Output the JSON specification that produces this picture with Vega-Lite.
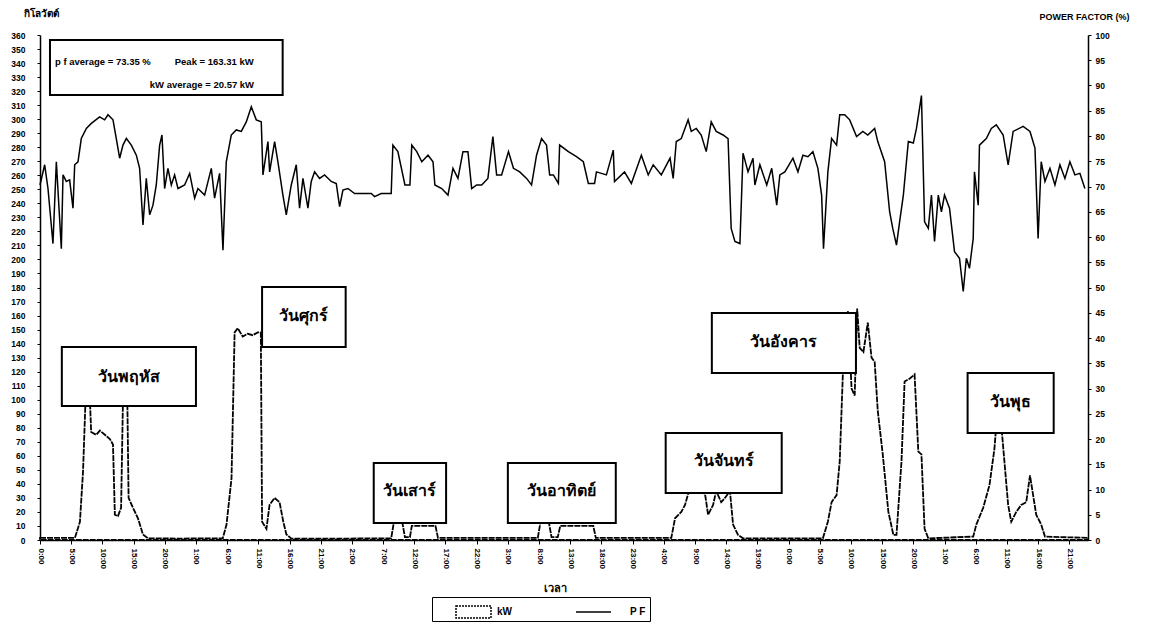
{
 "$schema": "https://vega.github.io/schema/vega-lite/v6.json",
 "width": 1048,
 "height": 505,
 "autosize": {"type": "none"},
 "padding": {"left": 40, "top": 35, "right": 69, "bottom": 87},
 "background": "white",
 "config": {
  "view": {"stroke": null},
  "font": "Liberation Sans",
  "axis": {"labelFont": "Liberation Sans", "titleFont": "Liberation Sans", "labelColor": "black", "titleColor": "black", "domainColor": "black", "tickColor": "black", "grid": false, "domainWidth": 1.5, "labelFontWeight": "bold", "titleFontWeight": "bold"},
  "legend": {"labelFont": "Liberation Sans", "labelFontSize": 10, "labelFontWeight": "bold", "labelColor": "black"}
 },
 "datasets": {
  "kw": [
   {"h":0,"kw":1.5},{"h":3,"kw":1.5},{"h":5.6,"kw":1.5},{"h":6.4,"kw":13},{"h":6.9,"kw":49},{"h":7.3,"kw":100},{"h":8.0,"kw":100},{"h":8.2,"kw":77},{"h":9.0,"kw":75},{"h":9.6,"kw":78},{"h":10.4,"kw":75},{"h":11.2,"kw":72},{"h":11.7,"kw":68},{"h":12.0,"kw":18},{"h":12.5,"kw":17},{"h":13.0,"kw":23},{"h":13.3,"kw":100},{"h":14.0,"kw":100},{"h":14.2,"kw":30},{"h":14.9,"kw":23},{"h":15.7,"kw":15.5},{"h":16.5,"kw":4},{"h":17.3,"kw":1.2},{"h":22,"kw":1},{"h":26,"kw":1.2},{"h":29.3,"kw":1.2},{"h":29.9,"kw":11},{"h":30.7,"kw":44},{"h":31.2,"kw":148},{"h":31.7,"kw":151},{"h":32.5,"kw":145},{"h":33.3,"kw":147},{"h":34.1,"kw":146},{"h":34.9,"kw":148},{"h":35.4,"kw":148},{"h":35.6,"kw":13},{"h":36.3,"kw":8},{"h":36.8,"kw":25},{"h":37.6,"kw":30},{"h":38.4,"kw":27},{"h":39.0,"kw":13},{"h":39.5,"kw":4},{"h":40.3,"kw":1},{"h":48,"kw":1},{"h":56.3,"kw":1.2},{"h":56.7,"kw":12},{"h":58.1,"kw":12},{"h":58.5,"kw":2},{"h":59.3,"kw":2},{"h":59.6,"kw":10},{"h":63.4,"kw":10},{"h":63.8,"kw":1.5},{"h":72,"kw":1.5},{"h":79.8,"kw":1.5},{"h":80.2,"kw":12},{"h":81.6,"kw":12},{"h":82.0,"kw":2},{"h":83.0,"kw":2},{"h":83.4,"kw":10},{"h":88.7,"kw":10},{"h":89.1,"kw":1.5},{"h":96,"kw":1.5},{"h":101.2,"kw":1.5},{"h":101.8,"kw":15.5},{"h":102.8,"kw":20},{"h":103.4,"kw":25},{"h":103.9,"kw":33},{"h":105.0,"kw":36},{"h":106.0,"kw":34},{"h":106.6,"kw":33},{"h":107.1,"kw":18},{"h":107.9,"kw":25},{"h":108.4,"kw":35},{"h":109.2,"kw":27},{"h":109.8,"kw":30},{"h":110.6,"kw":35},{"h":111.1,"kw":11},{"h":111.9,"kw":3.6},{"h":112.7,"kw":1.2},{"h":120,"kw":1.2},{"h":125.5,"kw":1.2},{"h":126.3,"kw":13},{"h":126.9,"kw":27},{"h":127.7,"kw":32},{"h":128.2,"kw":56},{"h":128.7,"kw":118},{"h":129.5,"kw":163.3},{"h":130.1,"kw":108},{"h":130.6,"kw":103},{"h":131.0,"kw":165},{"h":131.4,"kw":137},{"h":132.0,"kw":134},{"h":132.7,"kw":155},{"h":133.3,"kw":130},{"h":133.8,"kw":127},{"h":134.3,"kw":92},{"h":135.1,"kw":61},{"h":136.0,"kw":20},{"h":136.8,"kw":3.6},{"h":137.3,"kw":3.6},{"h":138.1,"kw":56},{"h":138.6,"kw":113},{"h":139.4,"kw":115},{"h":140.2,"kw":118},{"h":140.8,"kw":63},{"h":141.3,"kw":61},{"h":141.8,"kw":8},{"h":142.4,"kw":1.2},{"h":149.6,"kw":2.4},{"h":150.1,"kw":11},{"h":151.2,"kw":23},{"h":152.2,"kw":39},{"h":153.0,"kw":65},{"h":153.3,"kw":82},{"h":154.1,"kw":82},{"h":154.6,"kw":56},{"h":155.2,"kw":25},{"h":155.7,"kw":13},{"h":156.5,"kw":20},{"h":157.3,"kw":25},{"h":158.1,"kw":27},{"h":158.7,"kw":46},{"h":159.2,"kw":32},{"h":159.7,"kw":18},{"h":160.5,"kw":11},{"h":161.1,"kw":2.4},{"h":168,"kw":1.5}
  ],
  "pf": [
   {"h":0,"pf":70.3},{"h":0.75,"pf":74.3},{"h":1.28,"pf":69.6},{"h":2.08,"pf":58.7},{"h":2.62,"pf":74.9},{"h":3.42,"pf":57.7},{"h":3.69,"pf":72.3},{"h":4.22,"pf":71.0},{"h":4.75,"pf":71.3},{"h":5.29,"pf":65.7},{"h":5.56,"pf":74.3},{"h":6.09,"pf":74.9},{"h":6.62,"pf":79.5},{"h":7.43,"pf":81.5},{"h":8.23,"pf":82.5},{"h":9.56,"pf":83.8},{"h":10.36,"pf":83.2},{"h":10.9,"pf":84.2},{"h":11.7,"pf":83.2},{"h":12.23,"pf":79.5},{"h":12.77,"pf":75.6},{"h":13.3,"pf":78.2},{"h":13.84,"pf":79.5},{"h":14.64,"pf":78.2},{"h":15.44,"pf":76.2},{"h":15.97,"pf":73.6},{"h":16.51,"pf":62.4},{"h":17.04,"pf":71.6},{"h":17.58,"pf":64.4},{"h":18.11,"pf":66.3},{"h":18.64,"pf":70.3},{"h":19.18,"pf":78.2},{"h":19.55,"pf":80.2},{"h":19.98,"pf":69.6},{"h":20.51,"pf":73.6},{"h":21.05,"pf":70.3},{"h":21.58,"pf":72.3},{"h":22.12,"pf":69.6},{"h":23.18,"pf":70.3},{"h":23.99,"pf":72.6},{"h":24.79,"pf":67.7},{"h":25.32,"pf":69.6},{"h":26.39,"pf":68.3},{"h":27.46,"pf":73.6},{"h":27.99,"pf":67.7},{"h":28.79,"pf":72.6},{"h":29.33,"pf":57.4},{"h":29.86,"pf":74.9},{"h":30.66,"pf":80.2},{"h":31.46,"pf":81.2},{"h":32.27,"pf":80.9},{"h":33.07,"pf":82.8},{"h":33.87,"pf":85.8},{"h":34.67,"pf":83.2},{"h":35.47,"pf":82.8},{"h":35.74,"pf":72.3},{"h":36.54,"pf":78.9},{"h":36.81,"pf":72.9},{"h":37.61,"pf":78.9},{"h":38.14,"pf":74.9},{"h":38.94,"pf":68.3},{"h":39.48,"pf":64.4},{"h":40.28,"pf":70.3},{"h":41.08,"pf":74.3},{"h":41.61,"pf":65.7},{"h":42.15,"pf":71.6},{"h":42.95,"pf":65.7},{"h":43.48,"pf":71.0},{"h":44.02,"pf":72.9},{"h":44.82,"pf":71.6},{"h":45.62,"pf":72.3},{"h":46.69,"pf":71.0},{"h":47.49,"pf":70.6},{"h":48.03,"pf":66.0},{"h":48.56,"pf":69.3},{"h":49.36,"pf":69.6},{"h":50.43,"pf":68.6},{"h":53.1,"pf":68.6},{"h":53.63,"pf":68.0},{"h":54.7,"pf":68.6},{"h":56.3,"pf":68.6},{"h":56.57,"pf":78.2},{"h":57.37,"pf":76.9},{"h":58.5,"pf":70.3},{"h":59.3,"pf":70.3},{"h":59.6,"pf":78.2},{"h":60.4,"pf":76.9},{"h":61.2,"pf":74.9},{"h":62.2,"pf":76.2},{"h":63.0,"pf":74.9},{"h":63.3,"pf":70.3},{"h":64.4,"pf":69.6},{"h":65.4,"pf":68.3},{"h":66.2,"pf":73.6},{"h":67.0,"pf":71.6},{"h":67.8,"pf":76.9},{"h":68.6,"pf":76.9},{"h":69.2,"pf":69.6},{"h":70.0,"pf":70.3},{"h":70.8,"pf":70.3},{"h":71.8,"pf":71.6},{"h":72.6,"pf":79.9},{"h":73.2,"pf":72.3},{"h":74.0,"pf":72.3},{"h":75.1,"pf":76.9},{"h":75.9,"pf":73.6},{"h":76.9,"pf":72.9},{"h":78.0,"pf":71.6},{"h":78.8,"pf":70.3},{"h":79.6,"pf":76.2},{"h":80.4,"pf":79.5},{"h":81.2,"pf":78.2},{"h":81.7,"pf":72.3},{"h":82.3,"pf":72.3},{"h":83.1,"pf":70.6},{"h":83.3,"pf":78.2},{"h":84.7,"pf":76.9},{"h":86.0,"pf":75.9},{"h":87.1,"pf":74.9},{"h":87.9,"pf":70.6},{"h":88.9,"pf":70.6},{"h":89.2,"pf":72.9},{"h":90.8,"pf":72.3},{"h":91.9,"pf":77.2},{"h":92.1,"pf":71.0},{"h":93.7,"pf":72.9},{"h":94.8,"pf":70.6},{"h":96.4,"pf":76.2},{"h":97.5,"pf":72.3},{"h":98.3,"pf":74.3},{"h":99.6,"pf":72.3},{"h":101.0,"pf":75.6},{"h":101.5,"pf":71.6},{"h":102.0,"pf":78.9},{"h":102.8,"pf":79.5},{"h":103.9,"pf":83.2},{"h":104.4,"pf":80.9},{"h":105.2,"pf":81.5},{"h":106.0,"pf":80.2},{"h":106.8,"pf":76.9},{"h":107.6,"pf":82.8},{"h":108.4,"pf":80.9},{"h":109.5,"pf":80.2},{"h":110.3,"pf":79.5},{"h":110.8,"pf":61.7},{"h":111.4,"pf":59.1},{"h":112.2,"pf":58.7},{"h":112.7,"pf":76.6},{"h":113.5,"pf":72.9},{"h":114.3,"pf":75.6},{"h":114.6,"pf":70.3},{"h":115.4,"pf":74.3},{"h":116.5,"pf":70.3},{"h":117.3,"pf":73.6},{"h":118.1,"pf":66.3},{"h":118.6,"pf":72.3},{"h":119.4,"pf":72.9},{"h":120.7,"pf":75.6},{"h":121.5,"pf":72.9},{"h":122.3,"pf":76.2},{"h":123.1,"pf":75.9},{"h":123.9,"pf":76.9},{"h":124.7,"pf":73.6},{"h":125.3,"pf":68.3},{"h":125.6,"pf":57.7},{"h":126.3,"pf":72.9},{"h":126.9,"pf":79.5},{"h":127.7,"pf":78.2},{"h":128.2,"pf":84.2},{"h":129.0,"pf":84.2},{"h":129.8,"pf":83.2},{"h":130.9,"pf":79.9},{"h":131.9,"pf":80.9},{"h":132.7,"pf":80.2},{"h":133.8,"pf":81.5},{"h":134.3,"pf":78.9},{"h":135.4,"pf":74.9},{"h":136.2,"pf":65.0},{"h":136.7,"pf":61.7},{"h":137.3,"pf":58.4},{"h":137.8,"pf":63.0},{"h":138.4,"pf":68.3},{"h":139.2,"pf":78.9},{"h":140.0,"pf":78.6},{"h":140.5,"pf":81.5},{"h":141.0,"pf":85.5},{"h":141.3,"pf":88.0},{"h":141.8,"pf":63.0},{"h":142.4,"pf":61.7},{"h":142.9,"pf":68.3},{"h":143.4,"pf":59.1},{"h":144.0,"pf":68.3},{"h":144.5,"pf":65.0},{"h":145.0,"pf":68.3},{"h":145.8,"pf":65.7},{"h":146.6,"pf":57.1},{"h":147.4,"pf":55.8},{"h":148.0,"pf":49.2},{"h":148.5,"pf":55.8},{"h":149.0,"pf":53.8},{"h":149.6,"pf":59.7},{"h":149.8,"pf":72.9},{"h":150.4,"pf":66.3},{"h":150.6,"pf":78.2},{"h":151.7,"pf":79.5},{"h":152.5,"pf":81.5},{"h":153.3,"pf":82.2},{"h":154.4,"pf":80.2},{"h":155.2,"pf":74.3},{"h":156.0,"pf":80.9},{"h":157.6,"pf":81.9},{"h":158.7,"pf":80.9},{"h":159.5,"pf":77.6},{"h":160.0,"pf":59.7},{"h":160.5,"pf":74.9},{"h":161.1,"pf":71.0},{"h":161.9,"pf":73.6},{"h":162.7,"pf":70.3},{"h":163.5,"pf":74.3},{"h":164.3,"pf":71.6},{"h":165.1,"pf":74.9},{"h":165.9,"pf":72.3},{"h":166.7,"pf":72.6},{"h":167.5,"pf":69.6}
  ],
  "boxes": [
   {"label":"วันพฤหัส","h1":3.5,"h2":25.0,"k1":95.5,"k2":137.6,"hc":14.25,"kc":116.5},
   {"label":"วันศุกร์","h1":35.6,"h2":49.0,"k1":137.6,"k2":180.3,"hc":42.3,"kc":160},
   {"label":"วันเสาร์","h1":53.5,"h2":65.1,"k1":12.1,"k2":54.9,"hc":59.3,"kc":35},
   {"label":"วันอาทิตย์","h1":75.0,"h2":92.3,"k1":12.1,"k2":54.9,"hc":83.65,"kc":35},
   {"label":"วันจันทร์","h1":100.3,"h2":118.9,"k1":33.5,"k2":76.3,"hc":109.6,"kc":56},
   {"label":"วันอังคาร","h1":107.7,"h2":130.8,"k1":119.0,"k2":161.8,"hc":119.25,"kc":141.5},
   {"label":"วันพุธ","h1":148.7,"h2":162.5,"k1":76.3,"k2":119.0,"hc":155.6,"kc":98.5}
  ],
  "statbox": [{"h1":1.6,"h2":38.9,"k1":317.2,"k2":356.4}],
  "stats": [
   {"h":2.4,"k":340.7,"text":"p f  average  =  73.35   %"},
   {"h":21.6,"k":340.7,"text":"Peak    =   163.31   kW"},
   {"h":17.6,"k":324.3,"text":"kW average   =   20.57    kW"}
  ]
 },
 "layer": [
  {
   "layer": [
    {
     "data": {"name": "kw"},
     "mark": {"type": "area", "stroke": "black", "strokeWidth": 1.8, "strokeDash": [6, 1]},
     "encoding": {
      "x": {"field": "h", "type": "quantitative", "scale": {"domain": [0, 168], "nice": false, "zero": false},
       "axis": {"values": [0,5,10,15,20,25,30,35,40,45,50,55,60,65,70,75,80,85,90,95,100,105,110,115,120,125,130,135,140,145,150,155,160,165],
        "tickCount": 200,
        "labelExpr": "(datum.value % 24) + ':00'", "labelAngle": 90, "labelFontSize": 8, "labelPadding": 4, "tickSize": 4, "labelOverlap": false, "labelBound": false,
        "title": "เวลา", "titleFontSize": 11, "titleX": 515, "titleY": 42, "titleBaseline": "top", "titleAlign": "center"}},
      "y": {"field": "kw", "type": "quantitative", "scale": {"domain": [0, 360], "nice": false},
       "axis": {"values": [0,10,20,30,40,50,60,70,80,90,100,110,120,130,140,150,160,170,180,190,200,210,220,230,240,250,260,270,280,290,300,310,320,330,340,350,360],
        "tickCount": 200, "format": "d",
        "labelFontSize": 8.5, "labelPadding": 12, "tickSize": 3, "labelOverlap": false, "labelBound": false,
        "title": "กิโลวัตต์", "titleAngle": 0, "titleX": -17, "titleY": -22, "titleAlign": "left", "titleBaseline": "middle", "titleFontSize": 10}},
      "fill": {"datum": "kW", "type": "nominal", "scale": {"domain": ["kW"], "range": ["white"]},
       "legend": {"orient": "none", "legendX": 392, "legendY": 562, "direction": "horizontal", "title": null,
        "padding": 4, "symbolOffset": 26.5, "labelOffset": 12.5,
        "symbolType": "M-1.75,-0.6H1.75V0.6H-1.75Z", "symbolSize": 400, "symbolFillColor": "white",
        "symbolStrokeColor": "black", "symbolStrokeWidth": 1.5, "symbolDash": [2, 1]}}
     }
    },
    {
     "data": {"name": "boxes"},
     "mark": {"type": "rect", "fill": "white", "stroke": "black", "strokeWidth": 2},
     "encoding": {
      "x": {"field": "h1", "type": "quantitative", "scale": {"domain": [0, 168], "nice": false, "zero": false}},
      "x2": {"field": "h2"},
      "y": {"field": "k1", "type": "quantitative", "scale": {"domain": [0, 360], "nice": false}},
      "y2": {"field": "k2"}
     }
    },
    {
     "data": {"name": "boxes"},
     "mark": {"type": "text", "fontSize": 16, "fontWeight": "bold", "color": "black"},
     "encoding": {
      "x": {"field": "hc", "type": "quantitative", "scale": {"domain": [0, 168], "nice": false, "zero": false}},
      "y": {"field": "kc", "type": "quantitative", "scale": {"domain": [0, 360], "nice": false}},
      "text": {"field": "label"}
     }
    },
    {
     "data": {"name": "statbox"},
     "mark": {"type": "rect", "fill": "white", "stroke": "black", "strokeWidth": 2},
     "encoding": {
      "x": {"field": "h1", "type": "quantitative", "scale": {"domain": [0, 168], "nice": false, "zero": false}},
      "x2": {"field": "h2"},
      "y": {"field": "k1", "type": "quantitative", "scale": {"domain": [0, 360], "nice": false}},
      "y2": {"field": "k2"}
     }
    },
    {
     "data": {"name": "stats"},
     "mark": {"type": "text", "fontSize": 9.5, "fontWeight": "bold", "align": "left", "baseline": "middle", "color": "black", "font": "Liberation Sans"},
     "encoding": {
      "x": {"field": "h", "type": "quantitative", "scale": {"domain": [0, 168], "nice": false, "zero": false}},
      "y": {"field": "k", "type": "quantitative", "scale": {"domain": [0, 360], "nice": false}},
      "text": {"field": "text"}
     }
    }
   ]
  },
  {
   "data": {"name": "pf"},
   "mark": {"type": "line", "strokeWidth": 1.5},
   "encoding": {
    "x": {"field": "h", "type": "quantitative", "scale": {"domain": [0, 168], "nice": false, "zero": false}},
    "y": {"field": "pf", "type": "quantitative", "scale": {"domain": [0, 100], "nice": false},
     "axis": {"orient": "right", "values": [0,5,10,15,20,25,30,35,40,45,50,55,60,65,70,75,80,85,90,95,100],
      "format": "d",
      "labelFontSize": 8.5, "labelPadding": 4, "tickSize": 3, "labelOverlap": false, "labelBound": false,
      "title": "POWER FACTOR (%)", "titleAngle": 0, "titleX": -4, "titleY": -19, "titleAlign": "center", "titleBaseline": "middle", "titleFontSize": 9}},
    "stroke": {"datum": "P F", "type": "nominal", "scale": {"domain": ["P F"], "range": ["black"]},
     "legend": {"orient": "none", "legendX": 392, "legendY": 562, "direction": "horizontal", "title": null,
      "strokeColor": "black", "padding": 4, "symbolOffset": 146.5, "labelOffset": 25.5,
      "symbolType": "M-1.75,0H1.75", "symbolSize": 400, "symbolStrokeColor": "black", "symbolStrokeWidth": 1.5}}
   }
  }
 ],
 "resolve": {"scale": {"y": "independent"}}
}
